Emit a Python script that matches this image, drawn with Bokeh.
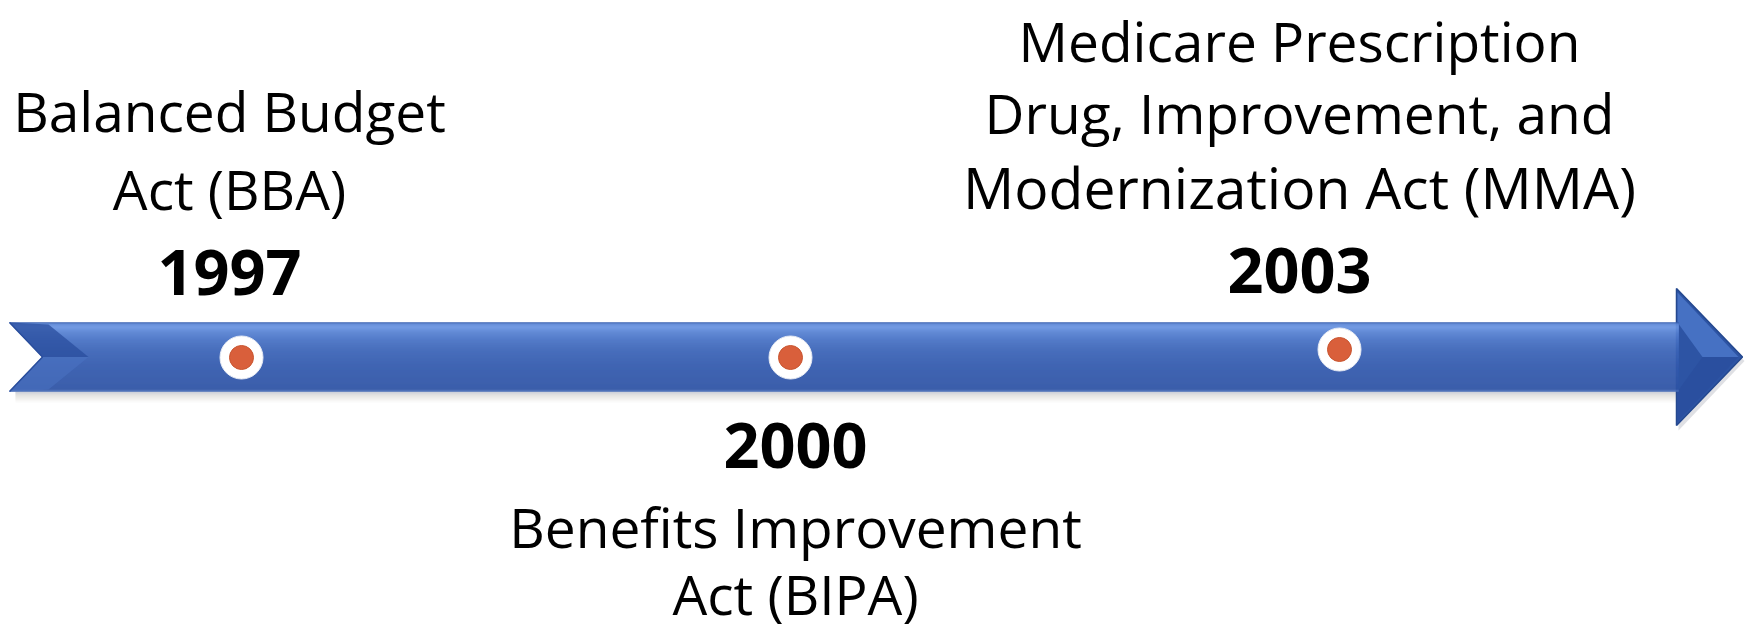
from bokeh.plotting import figure
from bokeh.models import Range1d
from bokeh.embed import file_html
from bokeh.resources import INLINE
from bokeh.core.properties import value

# ---- data ----
years = [1997, 2000, 2003]
year_labels = ["1997", "2000", "2003"]
act_lines = [
    ["Balanced Budget", "Act (BBA)"],
    ["Benefits Improvement", "Act (BIPA)"],
    ["Medicare Prescription", "Drug, Improvement, and", "Modernization Act (MMA)"],
]

# ---- layout (pixel space of the picture) ----
W, H = 1750, 630
first_px, px_per_year = 241, 183.0
yr0 = years[0] + (0 - first_px) / px_per_year
yr1 = years[0] + (W - first_px) / px_per_year

p = figure(width=W, height=H, x_range=Range1d(yr0, yr1), y_range=Range1d(H, 0),
           output_backend="svg", toolbar_location=None, min_border=0)
p.extra_x_ranges = {"px": Range1d(0, W)}
p.axis.visible = False
p.grid.visible = False
p.outline_line_color = None
p.background_fill_color = "white"
p.border_fill_color = "white"

TOP, BOT, CEN = 322.0, 391.0, 356.5
LEFT, NOTCH, HEADX, TIP = 9.0, 42.0, 1676.0, 1742.0
HTOP, HBOT = 288.0, 425.0

def hexmix(c1, c2, t):
    a = [int(c1[i:i + 2], 16) for i in (1, 3, 5)]
    b = [int(c2[i:i + 2], 16) for i in (1, 3, 5)]
    return "#%02x%02x%02x" % tuple(round(a[k] + (b[k] - a[k]) * t) for k in range(3))

def interp(stops, y):
    for (ya, ca), (yb, cb) in zip(stops, stops[1:]):
        if ya <= y <= yb:
            return hexmix(ca, cb, (y - ya) / (yb - ya))
    return stops[-1][1]

body_stops = [(322, "#2e55a5"), (324, "#5e89d8"), (327, "#6a94e2"), (332, "#5882d2"),
              (340, "#4872c4"), (350, "#3c65b7"), (365, "#345bae"), (386, "#2f55a6"),
              (389, "#2e54a4"), (391, "#4c71ba")]
sh_stops = [(391, "#b9c0cc"), (394, "#d8d8d6"), (398, "#ecebe7"), (402, "#ffffff")]

def notch_x(y):
    return LEFT + (NOTCH - LEFT) * (1 - abs(y - CEN) / (CEN - TOP))

# shadow under arrow
for i in range(11):
    y = 391 + i
    c = interp(sh_stops, y)
    p.quad(left=LEFT + 6, right=HEADX, bottom=y + 1, top=y, fill_color=c, line_color=None,
           x_range_name="px")
p.patch([HEADX, TIP + 2, HEADX + 2], [HTOP + 4, CEN + 4, HBOT + 5], fill_color="#c9ccd2",
        fill_alpha=0.6, line_color=None, x_range_name="px")

# arrow head
p.patch([HEADX, TIP, HEADX], [HTOP, CEN, HBOT], fill_color="#2d54a4", line_color="#24488f",
        line_width=1.5, x_range_name="px")
p.patch([HEADX + 1, TIP - 4, HEADX + 26, HEADX + 1], [HTOP + 4, CEN, CEN, TOP],
        fill_color="#4671c3", line_color=None, x_range_name="px")
p.patch([HEADX + 1, HEADX + 26, TIP - 4, HEADX + 1], [BOT, CEN, CEN, HBOT - 4],
        fill_color="#2a4f9f", line_color=None, x_range_name="px")

# body gradient strips
n = int(BOT - TOP)
for i in range(n):
    ya, yb = TOP + i, TOP + i + 1
    c = interp(body_stops, (ya + yb) / 2)
    p.patch([notch_x(ya), HEADX + 2, HEADX + 2, notch_x(yb)], [ya, ya, yb, yb],
            fill_color=c, line_color=c, line_width=0.5, x_range_name="px")

# notch bevels
p.patch([LEFT, NOTCH, 88, 48], [TOP, CEN, CEN, TOP + 2], fill_color="#2a4e9d",
        fill_alpha=0.75, line_color=None, x_range_name="px")
p.patch([LEFT, NOTCH, 88, 48], [BOT, CEN, CEN, BOT - 2], fill_color="#4a73c2",
        fill_alpha=0.55, line_color=None, x_range_name="px")
p.line([LEFT, NOTCH, LEFT], [TOP, CEN, BOT], line_color="#2a4e9d", line_width=1.5,
       x_range_name="px")

# event markers
dot_y = [357, 357, 349]
p.scatter(x=years, y=dot_y, size=43, fill_color="white", line_color="#e8ecf4", line_width=1)
p.scatter(x=years, y=dot_y, size=24, fill_color="#d95f3b", line_color="#c9552f", line_width=1)

# labels (baselines in picture px)
label_cx = [229, 795, 1299]
year_base = [295, 468, 293]
line_base = [[130, 208], [546, 613], [60, 132, 207]]
FONT = "Open Sans"
REG, BOLD = 55, 63
line_size = [[55, 55], [55, 55], [55, 55, 57]]

def mid(base, size):
    return base - 0.36 * size

for k in range(len(years)):
    p.text(x=[label_cx[k]], y=[mid(year_base[k], BOLD)], text=[year_labels[k]],
           x_range_name="px", text_font=value(FONT), text_font_style="bold",
           text_font_size=f"{BOLD}px", text_align="center", text_baseline="middle",
           text_color="#000000")
    for j, line in enumerate(act_lines[k]):
        s = line_size[k][j]
        p.text(x=[label_cx[k]], y=[mid(line_base[k][j], s)], text=[line],
               x_range_name="px", text_font=value(FONT), text_font_size=f"{s}px",
               text_align="center", text_baseline="middle", text_color="#000000")

open("out.html", "w").write(file_html(p, INLINE))
